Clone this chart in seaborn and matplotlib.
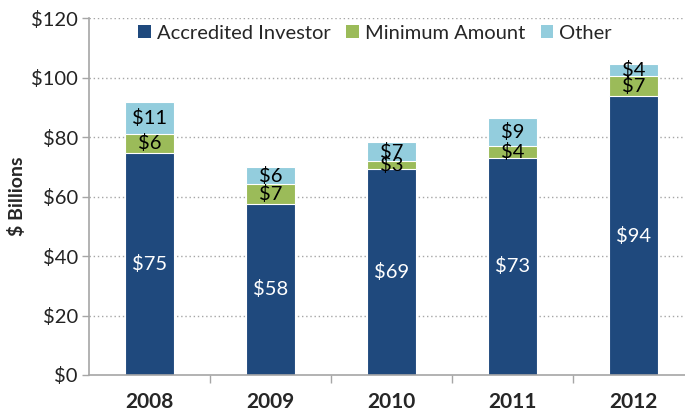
import matplotlib
matplotlib.use("Agg")
import matplotlib.pyplot as plt
import seaborn as sns
import pandas as pd
import numpy as np
from matplotlib.patches import Patch
from matplotlib.ticker import FixedLocator, FuncFormatter

years = ["2008", "2009", "2010", "2011", "2012"]
accredited = [74.7, 57.6, 69.2, 73.0, 93.8]
minimum = [6.4, 6.6, 2.6, 4.1, 6.6]
other = [10.8, 5.6, 6.6, 9.2, 4.0]
series_names = ["Accredited Investor", "Minimum Amount", "Other"]
colors = ["#1F497D", "#9BBB59", "#93CDDD"]
y_ticks = [0, 20, 40, 60, 80, 100, 120]

sns.set_theme(style="white")
plt.rcParams["font.family"] = ["Lato", "DejaVu Sans"]

df = pd.DataFrame({"year": years, "acc": accredited, "min": minimum, "oth": other})
df["c1"] = df["acc"]
df["c2"] = df["acc"] + df["min"]
df["c3"] = df["c2"] + df["oth"]

fig = plt.figure(figsize=(6.85, 4.15), dpi=100)
ax = fig.add_axes([0.130, 0.0964, 0.870, 0.860])

bw = 0.41
for col, colr in zip(["c3", "c2", "c1"], colors[::-1]):
    sns.barplot(data=df, x="year", y=col, color=colr, width=bw, ax=ax,
                edgecolor="white", linewidth=0.8, saturation=1)

xmax = -0.5 + 596 / 121
ax.set_xlim(-0.5, xmax)
ax.set_ylim(0, 120)

lab_fs = 14.5
for i in range(len(years)):
    a, m, o = accredited[i], minimum[i], other[i]
    ax.text(i, a / 2, f"${round(a)}", ha="center", va="center", color="white", fontsize=lab_fs)
    ax.text(i, a + m / 2, f"${round(m)}", ha="center", va="center", color="black", fontsize=lab_fs)
    ax.text(i, a + m + o / 2, f"${round(o)}", ha="center", va="center", color="black", fontsize=lab_fs)

ax.set_yticks(y_ticks)
ax.yaxis.set_major_formatter(FuncFormatter(lambda v, p: f"${v:.0f}"))
ax.tick_params(axis="y", which="major", direction="out", length=5, width=1,
               color="#A6A6A6", labelsize=14.5, pad=3, left=True, labelcolor="#222222")
for yt in y_ticks[1:]:
    ax.axhline(yt, color="#A6A6A6", linestyle=(0, (1, 2)), linewidth=1, zorder=0)
ax.set_ylabel("$ Billions", fontsize=14, fontweight="bold", labelpad=4)

ax.xaxis.set_major_locator(FixedLocator([0.5, 1.5, 2.5, 3.5]))
ax.xaxis.set_minor_locator(FixedLocator(list(range(len(years)))))
ax.set_xticklabels([], minor=False)
ax.set_xticklabels(years, minor=True, fontsize=15, fontweight="bold")
ax.tick_params(axis="x", which="major", direction="out", length=6, width=1,
               color="#A6A6A6", bottom=True)
ax.tick_params(axis="x", which="minor", length=0, pad=12, bottom=True)
ax.set_xlabel("")

for s in ["top", "right"]:
    ax.spines[s].set_visible(False)
for s in ["left", "bottom"]:
    ax.spines[s].set_color("#A6A6A6")
    ax.spines[s].set_linewidth(1.2)
ax.set_axisbelow(True)

handles = [Patch(facecolor=c, edgecolor="none", label=n) for n, c in zip(series_names, colors)]
ax.legend(handles=handles, loc="center", bbox_to_anchor=(0.48, 0.958), ncol=3,
          frameon=False, fontsize=14.5, handlelength=0.6, handleheight=0.6,
          handletextpad=0.3, columnspacing=0.8)

fig.savefig("out.png", dpi=100)
